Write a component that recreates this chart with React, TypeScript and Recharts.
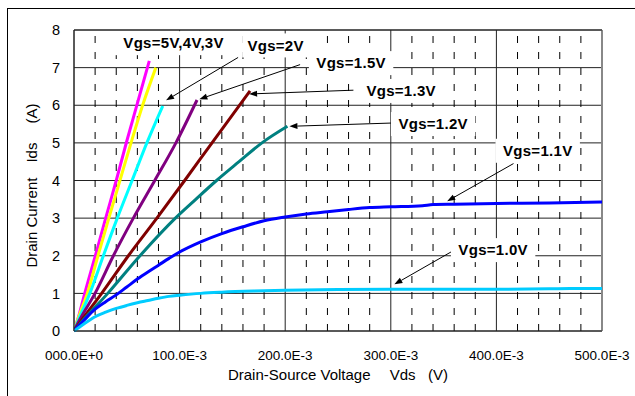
import { LineChart, Line, XAxis, YAxis, CartesianGrid, ReferenceLine, ReferenceDot } from "recharts"

// Ids-Vds curves, one per gate voltage: [Vds (V), Ids (A)]
const curve5V: [number, number][] = [
  [0, 0], [0.005, 0.45], [0.01, 0.98], [0.02, 1.98], [0.03, 3.0], [0.04, 4.0], [0.05, 5.05], [0.06, 6.05], [0.0713, 7.18],
]
const curve4V: [number, number][] = [
  [0, 0], [0.005, 0.42], [0.0126, 1], [0.0227, 2], [0.033, 3.0], [0.0435, 4.0], [0.054, 5.0], [0.065, 6.0], [0.0775, 7.0],
]
const curve3V: [number, number][] = [
  [0, 0], [0.005, 0.35], [0.015, 1], [0.0278, 2], [0.041, 3], [0.055, 4], [0.069, 5], [0.084, 5.98],
]
const curve2V: [number, number][] = [
  [0, 0], [0.005, 0.28], [0.0199, 1], [0.0373, 2], [0.0562, 3], [0.0765, 4], [0.0965, 5], [0.1165, 6.14],
]
const curve15V: [number, number][] = [
  [0, 0], [0.005, 0.2], [0.0262, 1], [0.0515, 2], [0.0785, 3], [0.1048, 4], [0.1307, 5], [0.1667, 6.38],
]
const curve13V: [number, number][] = [
  [0, 0], [0.005, 0.17], [0.032, 1], [0.0625, 2], [0.096, 3], [0.1153, 3.5], [0.135, 4], [0.1563, 4.5],
  [0.178, 5], [0.2021, 5.44],
]
const curve11V: [number, number][] = [
  [0, 0], [0.005, 0.15], [0.01, 0.3], [0.02, 0.58], [0.03, 0.78], [0.04, 0.96], [0.05, 1.17], [0.06, 1.38],
  [0.07, 1.57], [0.08, 1.75], [0.09, 1.93], [0.1, 2.1], [0.12, 2.37], [0.14, 2.59], [0.16, 2.77], [0.18, 2.93],
  [0.2, 3.03], [0.22, 3.11], [0.24, 3.17], [0.26, 3.23], [0.28, 3.28], [0.3, 3.3], [0.33, 3.33], [0.34, 3.36],
  [0.36, 3.37], [0.4, 3.39], [0.45, 3.4], [0.5, 3.43],
]
const curve10V: [number, number][] = [
  [0, 0], [0.005, 0.1], [0.01, 0.2], [0.02, 0.38], [0.03, 0.5], [0.04, 0.6], [0.05, 0.68], [0.06, 0.75],
  [0.07, 0.81], [0.08, 0.87], [0.09, 0.92], [0.1, 0.95], [0.12, 1.0], [0.14, 1.03], [0.17, 1.06], [0.2, 1.08],
  [0.25, 1.1], [0.3, 1.11], [0.35, 1.11], [0.4, 1.11], [0.45, 1.12], [0.47, 1.13], [0.5, 1.13],
]

const xTicks = [0, 0.1, 0.2, 0.3, 0.4, 0.5]
const xTickLabels = ["000.0E+0", "100.0E-3", "200.0E-3", "300.0E-3", "400.0E-3", "500.0E-3"]
const yTicks = [0, 1, 2, 3, 4, 5, 6, 7, 8]
const minorX = [
  0.02, 0.04, 0.06, 0.08, 0.12, 0.14, 0.16, 0.18, 0.22, 0.24, 0.26, 0.28,
  0.32, 0.34, 0.36, 0.38, 0.42, 0.44, 0.46, 0.48,
]

// annotation text, label centre, arrow start, arrow tip (data units)
const annoText = ["Vgs=5V,4V,3V", "Vgs=2V", "Vgs=1.5V", "Vgs=1.3V", "Vgs=1.2V", "Vgs=1.1V", "Vgs=1.0V"]
const annoAt: [number, number][] = [
  [0.0943, 7.65], [0.1909, 7.59], [0.2624, 7.12], [0.3098, 6.38], [0.3401, 5.5], [0.4391, 4.79], [0.3969, 2.15],
]
const arrowFrom: ([number, number] | null)[] = [
  null, [0.1554, 7.27], [0.2141, 7.08], [0.2646, 6.4], [0.3041, 5.53], [0.4162, 4.45], [0.3657, 2.24],
]
const arrowTo: ([number, number] | null)[] = [
  null, [0.0872, 6.13], [0.1187, 6.16], [0.1658, 6.3], [0.204, 5.44], [0.3534, 3.45], [0.3034, 1.24],
]

const series = [
  { name: "5V", data: curve5V, color: "#ff00ff" },
  { name: "4V", data: curve4V, color: "#ffff00" },
  { name: "3V", data: curve3V, color: "#00ffff" },
  { name: "2V", data: curve2V, color: "#800080" },
  { name: "1.5V", data: curve15V, color: "#800000" },
  { name: "1.3V", data: curve13V, color: "#008080" },
  { name: "1.1V", data: curve11V, color: "#0000ff" },
  { name: "1.0V", data: curve10V, color: "#00ccff" },
]

const toRows = (pts: [number, number][]) => pts.map(([vds, ids]) => ({ vds, ids }))

const labelBox = (text: string) => (p: any) => {
  const w = text.length * 8.8 + 14
  return (
    <g>
      <rect x={p.cx - w / 2} y={p.cy - 12} width={w} height={24} fill="#fff" />
      <text x={p.cx} y={p.cy} dy="0.35em" textAnchor="middle" fontSize={15} fontWeight="bold"
        letterSpacing={0.3} fontFamily="Liberation Sans, Arial, sans-serif" fill="#000">
        {text}
      </text>
    </g>
  )
}

const arrowShape = (p: any) => {
  const { x1, y1, x2, y2 } = p
  const a = Math.atan2(y2 - y1, x2 - x1)
  const len = 8
  const hw = 3
  const bx = x2 - len * Math.cos(a)
  const by = y2 - len * Math.sin(a)
  const px = -Math.sin(a) * hw
  const py = Math.cos(a) * hw
  return (
    <g>
      <line x1={x1} y1={y1} x2={bx} y2={by} stroke="#000" strokeWidth={1} />
      <polygon points={`${x2},${y2} ${bx + px},${by + py} ${bx - px},${by - py}`} fill="#000" />
    </g>
  )
}

const font = "Liberation Sans, Arial, sans-serif"

export default function App() {
  return (
    <div style={{ position: "absolute", left: 0, top: 0, width: 635, height: 396, overflow: "hidden", background: "#fff" }}>
      <div style={{ position: "absolute", left: 7, top: 8, width: 640, height: 400, borderLeft: "1.5px solid #000", borderTop: "1.5px solid #000" }} />
      <div style={{ position: "absolute", left: 0, top: 0 }}>
        <LineChart width={635} height={396} margin={{ top: 30, right: 33, bottom: 35, left: 0 }}>
          <CartesianGrid stroke="#222" strokeWidth={1} />
          {minorX.map((x) => (
            <ReferenceLine key={x} x={x} stroke="#000" strokeDasharray="7 9" strokeWidth={1} />
          ))}
          <ReferenceLine x={0.5} stroke="#888" strokeWidth={2} />
          <ReferenceLine y={8} stroke="#222" strokeWidth={1} />
          <XAxis
            type="number"
            dataKey="vds"
            domain={[0, 0.5]}
            ticks={xTicks}
            tickFormatter={(v: number) => xTickLabels[xTicks.indexOf(v)] ?? ""}
            tickLine={false}
            tickSize={0}
            tickMargin={19}
            height={30}
            axisLine={{ stroke: "#222" }}
            tick={{ fill: "#000", fontSize: 13.5, fontFamily: font }}
            label={{ value: "Drain-Source Voltage\u3000 Vds\u00a0\u00a0\u00a0(V)", position: "bottom", offset: 8, fill: "#000", fontSize: 15, fontFamily: font }}
            allowDataOverflow
          />
          <YAxis
            type="number"
            domain={[0, 8]}
            ticks={yTicks}
            tickLine={false}
            tickSize={0}
            tickMargin={14}
            width={74}
            axisLine={{ stroke: "#222" }}
            tick={{ fill: "#000", fontSize: 14.5, fontFamily: font }}
            label={{ value: "Drain Current\u3000Ids\u3000\u00a0(A)", angle: -90, position: "center", dx: -5, dy: 5, fill: "#000", fontSize: 15, fontFamily: font }}
          />
          {series.map((s) => (
            <Line
              key={s.name}
              data={toRows(s.data)}
              dataKey="ids"
              type="monotone"
              stroke={s.color}
              strokeWidth={3}
              dot={false}
              isAnimationActive={false}
            />
          ))}
          {annoText.map((t, i) => (
            <ReferenceDot key={t} x={annoAt[i][0]} y={annoAt[i][1]} r={0} shape={labelBox(t)} />
          ))}
          {annoText.map((t, i) => {
            const f = arrowFrom[i]
            const to = arrowTo[i]
            if (!f || !to) return null
            return (
              <ReferenceLine
                key={"a" + t}
                segment={[{ x: f[0], y: f[1] }, { x: to[0], y: to[1] }]}
                shape={arrowShape}
              />
            )
          })}
        </LineChart>
      </div>
    </div>
  )
}
